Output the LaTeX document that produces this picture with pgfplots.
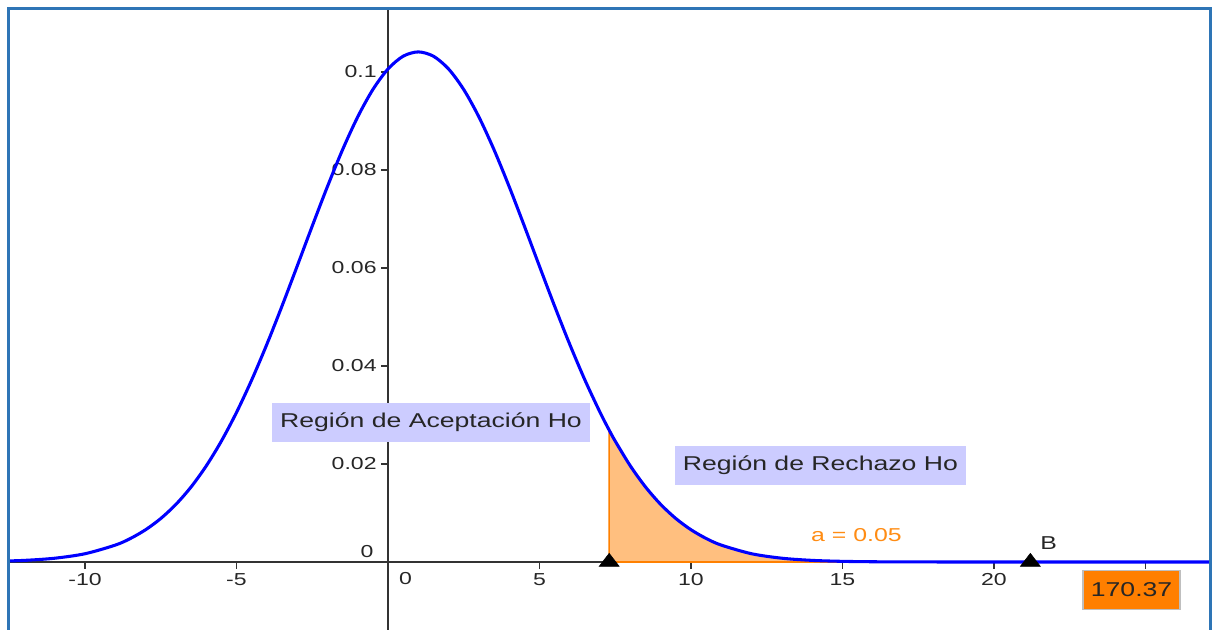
\documentclass[border=0pt]{standalone}
\usepackage{fontspec}
\setmainfont[FakeStretch=1.33]{Liberation Sans}
\usepackage{pgfplots}
\usepackage{pgfplotstable}
\pgfplotsset{compat=1.18}

\definecolor{curveblue}{RGB}{0,0,255}
\definecolor{fillorange}{RGB}{255,191,127}
\definecolor{edgeorange}{RGB}{255,128,0}
\definecolor{boxlav}{RGB}{204,204,255}
\definecolor{boxorange}{RGB}{255,127,0}
\definecolor{aorange}{RGB}{255,140,20}
\definecolor{framecol}{RGB}{46,117,182}

% normal density, mean 1, sd 3.83
\pgfplotstableread{
x y
-13 0.000131
-12 0.000328
-11 0.000769
-10 0.001684
-9 0.003445
-8.5 0.004802
-8 0.006583
-7.5 0.008870
-7 0.011751
-6.5 0.015304
-6 0.019593
-5.5 0.024661
-5 0.030518
-4.5 0.037124
-4 0.044399
-3.5 0.052202
-3 0.060338
-2.5 0.068565
-2 0.076601
-1.5 0.084127
-1 0.090832
-0.5 0.096415
0 0.100612
0.5 0.103220
1 0.104100
1.5 0.103220
2 0.100612
2.5 0.096415
3 0.090832
3.5 0.084127
4 0.076601
4.5 0.068565
5 0.060338
5.5 0.052202
6 0.044399
6.5 0.037124
7 0.030518
7.3 0.026910
7.5 0.024661
8 0.019593
8.5 0.015304
9 0.011751
9.5 0.008870
10 0.006583
10.5 0.004802
11 0.003445
12 0.001684
13 0.000769
14 0.000328
15 0.000131
16 0.000049
17 0.000017
18 0.000006
19 0
20 0
22 0
24 0
26 0
28 0
}\curve

% rejection tail, x >= 7.3
\pgfplotstableread{
x y
7.3 0.026910
7.5 0.024661
8 0.019593
8.5 0.015304
9 0.011751
9.5 0.008870
10 0.006583
10.5 0.004802
11 0.003445
12 0.001684
13 0.000769
14 0.000328
15 0.000131
16 0.000049
17 0.000017
18 0.000006
19 0
}\tail

\begin{document}
\begin{tikzpicture}
\begin{axis}[
    scale only axis,
    width=901.5pt, height=465.75pt,
    xmin=-12.541, xmax=27.129,
    ymin=-0.013878, ymax=0.11286,
    axis lines=middle,
    axis line style={-, line width=1.2pt, black!80},
    xtick={-10,-5,5,10,15,20,25},
    xticklabels={-10,-5,5,10,15,20,},
    ytick={0.02,0.04,0.06,0.08,0.1},
    yticklabels={0.02,0.04,0.06,0.08,0.1},
    tick align=outside,
    major tick length=5pt,
    tick style={black!80, line width=0.8pt},
    ticklabel style={font=\fontsize{13}{15}\selectfont, text=black!85},
    clip mode=individual,
]
    % shaded rejection region
    \addplot[fill=fillorange, draw=edgeorange, line width=1.2pt, smooth] table {\tail} \closedcycle;
    % density curve
    \addplot[curveblue, line width=2.3pt, smooth] table {\curve};
    % points on the axis
    \addplot[only marks, mark=triangle*, mark size=6.5pt, mark options={xscale=1.33, black}] coordinates {(7.3,0) (21.2,0)};

    \node[font=\fontsize{13}{15}\selectfont, text=black!85] at (axis cs:-0.69,0.00204) {0};
    \node[font=\fontsize{13}{15}\selectfont, text=black!85] at (axis cs:0.58,-0.00347) {0};

    \node[fill=boxlav, minimum width=238.5pt, minimum height=29.25pt, inner sep=0pt,
          font=\fontsize{15}{18}\selectfont, text=black!85] at (axis cs:1.42,0.02857) {Región de Aceptación Ho};
    \node[fill=boxlav, minimum width=218.25pt, minimum height=29.25pt, inner sep=0pt,
          font=\fontsize{15}{18}\selectfont, text=black!85] at (axis cs:14.27,0.01973) {Región de Rechazo Ho};
    \node[font=\fontsize{14}{16}\selectfont, text=aorange] at (axis cs:15.46,0.00551) {a = 0.05};
    \node[font=\fontsize{14}{16}\selectfont, text=black!85] at (axis cs:21.8,0.00388) {B};
    \node[fill=boxorange, draw=black!25, line width=1pt, minimum width=72.75pt, minimum height=29pt, inner sep=0pt,
          font=\fontsize{15}{18}\selectfont, text=black!85] at (axis cs:24.54,-0.00571) {170.37};

    % frame
    \draw[framecol, line width=2.25pt] (rel axis cs:0,0) -- (rel axis cs:0,1) -- (rel axis cs:1,1) -- (rel axis cs:1,0);
    \coordinate (SW) at (rel axis cs:0,0);
    \coordinate (NE) at (rel axis cs:1,1);
\end{axis}
\pgfresetboundingbox
\path[use as bounding box] ([xshift=-6pt]SW) rectangle ([xshift=3pt,yshift=6.75pt]NE);
\end{tikzpicture}
\end{document}
